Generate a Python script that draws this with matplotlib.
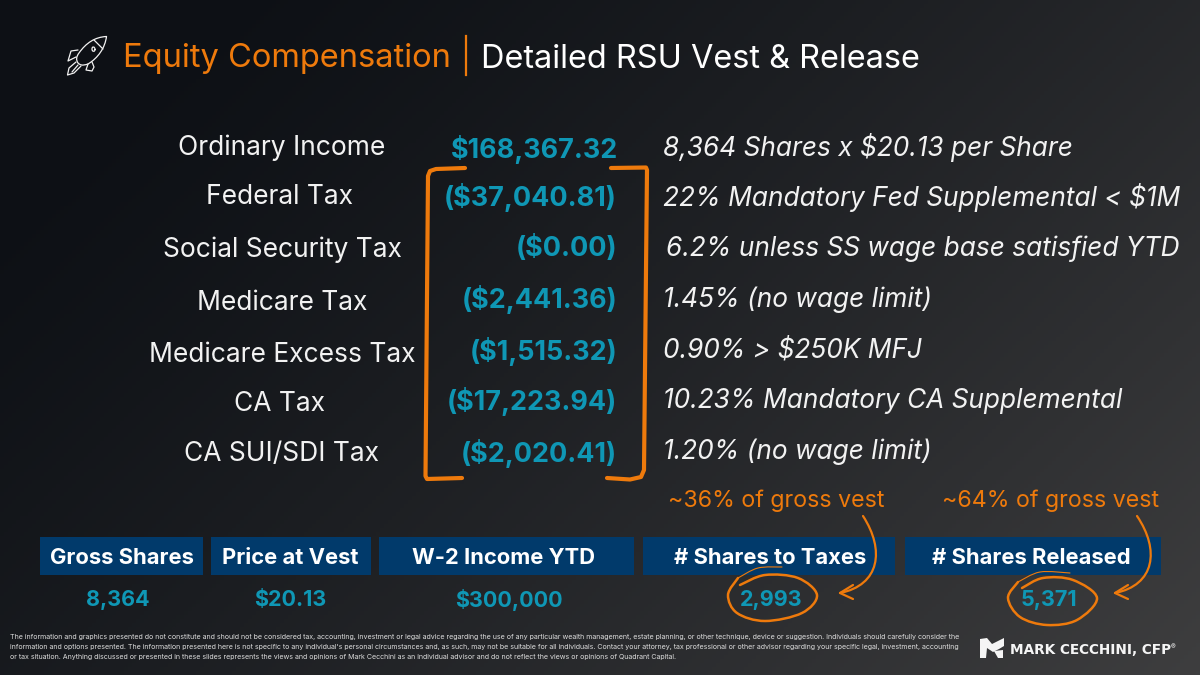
import matplotlib
matplotlib.use("Agg")
import matplotlib.pyplot as plt
import numpy as np
from matplotlib.patches import PathPatch, Rectangle
from matplotlib.path import Path

plt.rcParams["font.family"] = ["Inter", "DejaVu Sans"]

ORANGE = "#ee7a0c"
TEAL = "#0f97b5"
NAVY = "#013a6b"

row_labels = ["Ordinary Income", "Federal Tax", "Social Security Tax", "Medicare Tax",
              "Medicare Excess Tax", "CA Tax", "CA SUI/SDI Tax"]
row_values = ["$168,367.32", "($37,040.81)", "($0.00)", "($2,441.36)",
              "($1,515.32)", "($17,223.94)", "($2,020.41)"]
row_notes = ["8,364 Shares x $20.13 per Share", "22% Mandatory Fed Supplemental < $1M",
             "6.2% unless SS wage base satisfied YTD", "1.45% (no wage limit)",
             "0.90% > $250K MFJ", "10.23% Mandatory CA Supplemental", "1.20% (no wage limit)"]

box_labels = ["Gross Shares", "Price at Vest", "W-2 Income YTD", "# Shares to Taxes", "# Shares Released"]
box_values = ["8,364", "$20.13", "$300,000", "2,993", "5,371"]

callouts = ["~36% of gross vest", "~64% of gross vest"]

disclaimer = [
    "The information and graphics presented do not constitute and should not be considered tax, accounting, investment or legal advice regarding the use of any particular wealth management, estate planning, or other technique, device or suggestion. Individuals should carefully consider the",
    "information and options presented. The information presented here is not specific to any individual's personal circumstances and, as such, may not be suitable for all individuals. Contact your attorney, tax professional or other advisor regarding your specific legal, investment, accounting",
    "or tax situation. Anything discussed or presented in these slides represents the views and opinions of Mark Cecchini as an individual advisor and do not reflect the views or opinions of Quadrant Capital.",
]

# layout in slide pixels
label_pos = [(282, 148), (279, 197), (282, 250), (282, 303), (282, 355), (279, 404), (282, 454)]
value_pos = [(618, 149), (617, 197), (617, 248), (617, 300), (617, 351), (617, 402), (617, 454)]
note_pos = [(663, 148), (663, 198), (666, 249), (663, 300), (663, 351), (663, 401), (663, 452)]
box_x = [(40, 203), (211, 371), (379, 634), (643, 895), (905, 1161)]
box_text_x = [122, 290, 504, 770, 1031]
box_value_x = [118, 290, 509, 771, 1049]

fig = plt.figure(figsize=(12, 6.75), dpi=100)
ax = fig.add_axes([0, 0, 1, 1])
ax.set_xlim(0, 1200)
ax.set_ylim(675, 0)
ax.axis("off")

# diagonal background
xx, yy = np.meshgrid(np.linspace(0, 1, 300), np.linspace(0, 1, 170))
t = np.clip((xx * 0.72 + yy * 0.42 - 0.12) / 1.02, 0, 1) ** 1.25
c0 = np.array([13, 16, 21]) / 255
c1 = np.array([62, 62, 63]) / 255
bg = c0 + (c1 - c0) * t[..., None]
ax.imshow(bg, extent=[0, 1200, 675, 0], aspect="auto", zorder=0)


def curve(verts, color=ORANGE, lw=1.5, z=3):
    # verts: first point, then cubic control triples
    codes = [Path.MOVETO] + [Path.CURVE4] * (len(verts) - 1)
    ax.add_patch(PathPatch(Path(verts, codes), fc="none", ec=color, lw=lw, capstyle="round", zorder=z))


def poly(verts, color=ORANGE, lw=1.5, z=3):
    ax.plot(*zip(*verts), color=color, lw=lw, solid_capstyle="round", solid_joinstyle="round", zorder=z)


def scribble(pts, lw=1.6):
    # smooth hand drawn loop through the given points
    pts = np.array(pts, dtype=float)
    verts = [tuple(pts[0])]
    for i in range(len(pts) - 1):
        p0 = pts[max(i - 1, 0)]
        p1 = pts[i]
        p2 = pts[i + 1]
        p3 = pts[min(i + 2, len(pts) - 1)]
        verts += [tuple(p1 + (p2 - p0) / 6), tuple(p2 - (p3 - p1) / 6), tuple(p2)]
    curve(verts, ORANGE, lw)


# title
ax.text(123, 59, "Equity Compensation", color=ORANGE, fontsize=23.5, va="center", ha="left")
ax.plot([466, 466], [36, 75], color=ORANGE, lw=1.6)
ax.text(481, 59, "Detailed RSU Vest & Release", color="white", fontsize=23.4, va="center", ha="left")

# rocket icon
W = "#f2f2f2"
curve([(106.5, 36.5), (95, 37), (86, 43), (79, 53), (76, 57), (76, 60), (78, 63),
       (80, 65), (82, 66), (88, 64), (98, 58), (105, 48), (106.5, 36.5)], W, 0.9)
poly([(94, 40), (103, 49)], W, 0.9)
curve([(95, 49.5), (95, 46.5), (92, 46), (92, 49), (92, 52), (95, 52), (95, 49.5)], W, 0.9)
poly([(78, 50), (71, 51), (68, 61), (74, 58), (76, 57)], W, 0.9)
poly([(88, 64), (86, 70), (92, 71), (94, 67), (92, 62)], W, 0.9)
poly([(76, 62), (69, 68), (67.5, 75), (74, 73), (81, 66)], W, 0.9)
poly([(78, 65), (72, 72)], W, 0.9)

for (x, y), s in zip(label_pos, row_labels):
    ax.text(x, y, s, color="#f2f2f2", fontsize=19, ha="center", va="center")
for (x, y), s in zip(value_pos, row_values):
    ax.text(x, y, s, color=TEAL, fontsize=19.4, fontweight="bold", ha="right", va="center")
for (x, y), s in zip(note_pos, row_notes):
    ax.text(x, y, s, color="#f2f2f2", fontsize=18.9, style="italic", ha="left", va="center")

# hand drawn brackets
poly([(465, 168), (436, 169), (430, 171), (428, 176), (425.5, 476), (427, 479), (462, 478)], ORANGE, 3)
poly([(611, 168), (646, 167.5), (647, 170), (644, 470), (641, 477), (630, 479.5), (607, 478)], ORANGE, 3)

# bottom strip
for (x0, x1), tx, vx, s, v in zip(box_x, box_text_x, box_value_x, box_labels, box_values):
    ax.add_patch(Rectangle((x0, 537), x1 - x0, 38, fc=NAVY, ec="none", zorder=1))
    ax.text(tx, 558, s, color="white", fontsize=15.8, fontweight="bold", ha="center", va="center", zorder=2)
    ax.text(vx, 600, v, color=TEAL, fontsize=15.5, fontweight="bold", ha="center", va="center", zorder=2)

ax.text(776, 501, callouts[0], color=ORANGE, fontsize=16.7, ha="center", va="center")
ax.text(1051, 501, callouts[1], color=ORANGE, fontsize=16.7, ha="center", va="center")

# circles around the share counts, heavy loop then thin tail
scribble([(740, 585), (765, 575), (798, 578), (817, 595), (802, 613), (765, 621), (737, 613),
          (728, 595), (738, 578)], 1.8)
scribble([(738, 578), (758, 568), (782, 567)], 0.8)
scribble([(1022, 588), (1043, 578), (1073, 580), (1097, 598), (1077, 620), (1047, 625), (1020, 617),
          (1008, 598), (1018, 582)], 1.8)
scribble([(1018, 582), (1040, 572), (1070, 573)], 0.8)

# arrows
curve([(863, 516), (885, 550), (880, 585), (840, 593)], ORANGE, 1.6)
poly([(853, 585), (840, 593), (853, 599)], ORANGE, 1.6)
curve([(1137, 516), (1160, 550), (1155, 585), (1115, 593)], ORANGE, 1.6)
poly([(1128, 585), (1115, 593), (1128, 599)], ORANGE, 1.6)

# footer
for y, s in zip([637.5, 647, 656.5], disclaimer):
    ax.text(10, y, s, color="#dcdcdc", fontsize=5.1, ha="left", va="center")

# logo
ax.fill([980, 987, 992, 1000, 1004, 1004, 999, 993, 987, 986, 980],
        [639, 638, 644, 640, 638, 646, 649, 652, 648, 658, 658], color="#f5f5f5", lw=0)
ax.fill([994, 1003, 1003, 998], [651, 650, 658, 658], color="#f5f5f5", lw=0)
ax.text(1010, 650, "MARK CECCHINI, CFP", color="#f5f5f5", fontsize=9.8, fontweight="bold",
        family="DejaVu Sans", ha="left", va="center")
ax.text(1171, 647, "®", color="#f5f5f5", fontsize=5, ha="left", va="center")

fig.savefig("out.png", dpi=100)
plt.close(fig)
